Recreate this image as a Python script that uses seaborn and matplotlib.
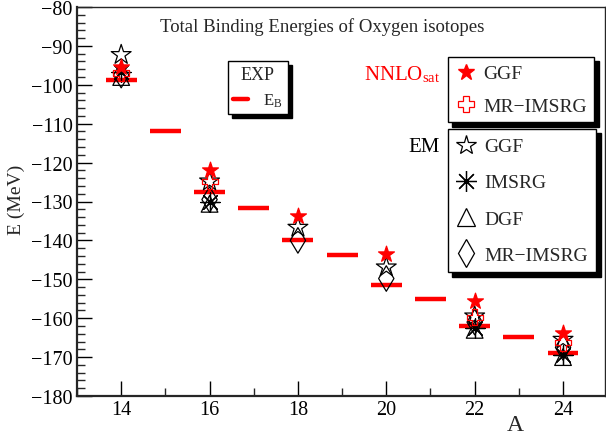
import numpy as np
import pandas as pd
import matplotlib
matplotlib.use("Agg")
import matplotlib.pyplot as plt
import seaborn as sns
from matplotlib.lines import Line2D
from matplotlib.ticker import MultipleLocator

# ---- data ----
A_exp = [14, 15, 16, 17, 18, 19, 20, 21, 22, 23, 24]
E_exp = [-98.73, -111.96, -127.62, -131.76, -139.81, -143.76, -151.37, -155.18, -162.03, -164.77, -168.96]

A_th = [14, 16, 18, 20, 22, 24]
nnlo_ggf = [-95.3, -122.0, -133.8, -143.5, -155.6, -163.7]
nnlo_mrimsrg = [-97.0, -124.8, np.nan, np.nan, -159.8, -166.3]
em_ggf = [-92.3, -124.8, -136.7, -146.9, -159.5, -165.5]
em_imsrg = [-96.8, -130.0, np.nan, np.nan, -162.4, -169.4]
em_dgf = [-98.0, -130.6, np.nan, np.nan, -163.0, -170.0]
em_mrimsrg = [-97.5, -129.5, -140.0, -149.8, -161.0, -167.5]

sns.set_theme(style="ticks")
plt.rcParams['font.family'] = ['Liberation Serif', 'DejaVu Serif']
plt.rcParams['mathtext.fontset'] = 'stix'

fig = plt.figure(figsize=(6.06, 4.39), dpi=100)
ax = fig.add_axes([77/606, 1-397/439, (605-77)/606, (397-8)/439])

# experimental bars
ax.errorbar(A_exp, E_exp, xerr=0.35, fmt='none', ecolor='red', elinewidth=3.2, capsize=0, zorder=2)

asterisk = (8, 2, 0)
series = [
    (em_mrimsrg, 'd', 'none', 'black', 13),
    (em_dgf, '^', 'none', 'black', 12),
    (em_imsrg, asterisk, 'black', 'black', 14),
    (em_ggf, '*', 'none', 'black', 15),
    (nnlo_mrimsrg, 'P', 'none', 'red', 11.5),
    (nnlo_ggf, '*', 'red', 'red', 12),
]
for vals, mk, fc, ec, ms in series:
    df = pd.DataFrame({'A': A_th, 'E': vals}).dropna()
    if mk is asterisk:
        sns.scatterplot(data=df, x='A', y='E', marker=mk, s=ms**2, color=ec,
                        linewidth=0.9, ax=ax, zorder=3, legend=False)
    else:
        sns.scatterplot(data=df, x='A', y='E', marker=mk, s=ms**2, facecolor=fc,
                        edgecolor=ec, linewidth=0.9, ax=ax, zorder=3, legend=False)

ax.set_xlim(13.0, 24.95)
ax.set_ylim(-180, -80)
ax.xaxis.set_major_locator(MultipleLocator(2))
ax.xaxis.set_minor_locator(MultipleLocator(1))
ax.yaxis.set_major_locator(MultipleLocator(10))
ax.yaxis.set_minor_locator(MultipleLocator(2))
ax.tick_params(which='major', direction='in', length=11, width=1.0, labelsize=14.5,
               top=False, right=False, colors='black', pad=3)
ax.tick_params(which='minor', direction='in', length=5.5, width=1.0, top=False, right=False)
for s in ['left', 'bottom']:
    ax.spines[s].set_linewidth(1.6)
for s in ['top', 'right']:
    ax.spines[s].set_linewidth(1.0)
ax.set_xlabel('')
ax.set_ylabel('')
fig.text(515/606, 1-426/439, 'A', fontsize=17, ha='center', va='center')
fig.text(16/606, 1-200/439, 'E (MeV)', fontsize=14, rotation=90, ha='center', va='center')
ax.text(0.464, 0.951, 'Total Binding Energies of Oxygen isotopes', transform=ax.transAxes,
        fontsize=13.5, ha='center', va='center')

shadow = {'ox': 3, 'oy': -3, 'color': 'black', 'alpha': 1}

# EXP legend
h_exp = [Line2D([], [], color='red', lw=3.2)]
leg1 = fig.legend(h_exp, ['E$_\\mathregular{B}$'], title='EXP', loc='upper left',
                  bbox_to_anchor=(228/606, 1-62/439), bbox_transform=fig.transFigure,
                  fontsize=12, title_fontsize=13, frameon=True, fancybox=False,
                  shadow=shadow, handlelength=0.9, borderpad=0.3, borderaxespad=0,
                  handletextpad=0.9)
leg1.get_frame().set_edgecolor('black')
leg1.get_frame().set_linewidth(1.0)

h_nn = [Line2D([], [], ls='none', marker='*', ms=12, mfc='red', mec='red'),
        Line2D([], [], ls='none', marker='P', ms=12, mfc='none', mec='red', mew=0.9)]
leg2 = fig.legend(h_nn, ['GGF', 'MR\u2212IMSRG'], loc='upper left',
                  bbox_to_anchor=(448/606, 1-58/439), bbox_transform=fig.transFigure,
                  fontsize=14, frameon=True, fancybox=False, shadow=shadow,
                  handlelength=1.0, borderpad=0.4, borderaxespad=0, labelspacing=0.75,
                  handletextpad=0.4)
leg2.get_frame().set_edgecolor('black')
leg2.get_frame().set_linewidth(1.0)

h_em = [Line2D([], [], ls='none', marker='*', ms=15, mfc='none', mec='black', mew=0.9),
        Line2D([], [], ls='none', marker=asterisk, ms=15, color='black', mew=0.9),
        Line2D([], [], ls='none', marker='^', ms=13, mfc='none', mec='black', mew=0.9),
        Line2D([], [], ls='none', marker='d', ms=14, mfc='none', mec='black', mew=0.9)]
leg3 = fig.legend(h_em, ['GGF', 'IMSRG', 'DGF', 'MR\u2212IMSRG'], loc='upper left',
                  bbox_to_anchor=(448/606, 1-130/439), bbox_transform=fig.transFigure,
                  fontsize=14, frameon=True, fancybox=False, shadow=shadow,
                  handlelength=1.0, borderpad=0.45, borderaxespad=0, labelspacing=0.95,
                  handletextpad=0.4)
leg3.get_frame().set_edgecolor('black')
leg3.get_frame().set_linewidth(1.0)

fig.text(440/606, 1-75/439, 'NNLO$_\\mathregular{sat}$', color='red', fontsize=15,
         ha='right', va='center')
fig.text(440/606, 1-148/439, 'EM', color='black', fontsize=15, ha='right', va='center')

fig.savefig('out.png', dpi=100)
